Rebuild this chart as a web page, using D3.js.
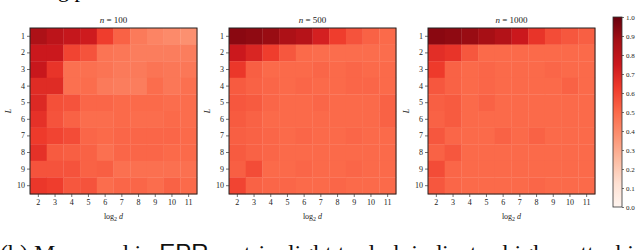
<!DOCTYPE html>
<html><head><meta charset="utf-8">
<script src="https://cdn.jsdelivr.net/npm/d3@7"></script>
<style>body{margin:0;background:#fff}svg{display:block}</style>
</head><body><svg id="c" width="640" height="250"></svg>
<script>
const dLabels = [2,3,4,5,6,7,8,9,10,11];
const Ls = [1,2,3,4,5,6,7,8,9,10];
const titles = ["100","500","1000"];
const cbTicks = [0,0.1,0.2,0.3,0.4,0.5,0.6,0.7,0.8,0.9,1.0];
const n100 = [
[0.85,0.80,0.77,0.74,0.62,0.52,0.45,0.42,0.40,0.38],
[0.75,0.75,0.60,0.56,0.47,0.46,0.44,0.44,0.44,0.44],
[0.76,0.65,0.48,0.48,0.47,0.45,0.45,0.47,0.46,0.46],
[0.68,0.68,0.48,0.49,0.45,0.44,0.44,0.49,0.46,0.48],
[0.69,0.57,0.56,0.51,0.51,0.50,0.50,0.50,0.49,0.49],
[0.66,0.56,0.52,0.49,0.49,0.50,0.49,0.49,0.50,0.49],
[0.63,0.60,0.58,0.51,0.50,0.51,0.51,0.51,0.51,0.50],
[0.66,0.54,0.53,0.52,0.48,0.51,0.51,0.51,0.50,0.50],
[0.56,0.56,0.56,0.52,0.53,0.48,0.48,0.48,0.48,0.48],
[0.64,0.62,0.55,0.56,0.49,0.51,0.51,0.49,0.52,0.50]];
const n500 = [
[0.93,0.92,0.90,0.85,0.82,0.72,0.62,0.56,0.52,0.50],
[0.75,0.70,0.62,0.55,0.50,0.49,0.49,0.49,0.49,0.49],
[0.64,0.53,0.50,0.50,0.50,0.51,0.50,0.51,0.50,0.50],
[0.54,0.52,0.51,0.50,0.51,0.50,0.50,0.51,0.51,0.50],
[0.55,0.54,0.51,0.50,0.50,0.51,0.50,0.50,0.50,0.52],
[0.54,0.52,0.50,0.50,0.50,0.50,0.50,0.50,0.50,0.52],
[0.53,0.52,0.51,0.50,0.51,0.50,0.50,0.51,0.50,0.50],
[0.54,0.52,0.51,0.50,0.50,0.50,0.50,0.50,0.50,0.50],
[0.53,0.58,0.50,0.50,0.51,0.50,0.50,0.51,0.50,0.50],
[0.60,0.52,0.51,0.51,0.50,0.50,0.51,0.50,0.50,0.50]];
const n1000 = [
[0.93,0.92,0.90,0.87,0.83,0.75,0.65,0.58,0.55,0.53],
[0.67,0.65,0.55,0.50,0.50,0.50,0.50,0.50,0.50,0.50],
[0.63,0.52,0.50,0.51,0.50,0.50,0.50,0.51,0.50,0.50],
[0.55,0.52,0.50,0.51,0.50,0.50,0.50,0.50,0.52,0.50],
[0.53,0.54,0.50,0.52,0.50,0.50,0.50,0.50,0.50,0.50],
[0.52,0.54,0.50,0.50,0.50,0.50,0.50,0.50,0.50,0.50],
[0.55,0.51,0.50,0.50,0.52,0.50,0.52,0.50,0.50,0.50],
[0.52,0.55,0.50,0.50,0.50,0.50,0.50,0.50,0.50,0.50],
[0.58,0.51,0.50,0.50,0.50,0.50,0.50,0.50,0.50,0.50],
[0.55,0.51,0.50,0.50,0.50,0.50,0.51,0.50,0.50,0.50]];
const panels = [n100, n500, n1000];

const svg = d3.select("#c");
const serif = "'Liberation Serif','DejaVu Serif',serif";
const redsStops = ["#fff5f0","#fee0d2","#fcbba1","#fc9272","#fb6a4a","#ef3b2c","#cb181d","#a50f15","#67000d"];
const color = d3.scaleLinear().domain(d3.range(9).map(i=>i/8)).range(redsStops).interpolate(d3.interpolateRgb);

const lefts = [30, 229, 428], W = 167, plotTop = 28, H = 166;

// cropped text from surrounding document
svg.append("text").attr("x",58).attr("y",-3).attr("font-family",serif).attr("font-size",22).text("g p");
const cap = svg.append("text").attr("x",0).attr("y",261).attr("font-family",serif).attr("font-size",24).attr("fill","#111");
cap.append("tspan").text("(b) Measured in ");
cap.append("tspan").attr("font-family","'Liberation Sans',Arial,sans-serif").text("EPR");
cap.append("tspan").text(" metric, light to dark indicates higher attacking rate");

panels.forEach((data, p) => {
  const g = svg.append("g").attr("transform", `translate(${lefts[p]},${plotTop})`);
  const x = d3.scaleBand().domain(dLabels).range([0, W]);
  const y = d3.scaleBand().domain(Ls).range([0, H]);
  data.forEach((row, i) => row.forEach((v, j) => {
    g.append("rect").attr("x", x(dLabels[j])).attr("y", y(Ls[i]))
      .attr("width", x.bandwidth()+0.3).attr("height", y.bandwidth()+0.3)
      .attr("fill", color(v));
  }));
  g.append("rect").attr("width",W).attr("height",H).attr("fill","none").attr("stroke","#222").attr("stroke-width",1);
  const xa = g.append("g").attr("transform",`translate(0,${H})`).call(d3.axisBottom(x).tickSize(3).tickPadding(2));
  const ya = g.append("g").call(d3.axisLeft(y).tickSize(3).tickPadding(2));
  [xa, ya].forEach(a => {
    a.select(".domain").remove();
    a.selectAll("line").attr("stroke","#333").attr("stroke-width",0.7);
    a.selectAll("text").attr("font-family",serif).attr("font-size",8).attr("fill","#222");
  });
  const t = g.append("text").attr("x",W/2).attr("y",-5).attr("text-anchor","middle").attr("font-family",serif).attr("font-size",9).attr("fill","#222");
  t.append("tspan").attr("font-style","italic").text("n");
  t.append("tspan").text(" = " + titles[p]);
  const xl = g.append("text").attr("x",W/2).attr("y",H+25).attr("text-anchor","middle").attr("font-family",serif).attr("font-size",8).attr("fill","#222");
  xl.append("tspan").text("log");
  xl.append("tspan").attr("font-size",6).attr("dy",2).text("2");
  xl.append("tspan").attr("dy",-2).attr("font-style","italic").text(" d");
  g.append("text").attr("transform",`translate(-19,${H/2}) rotate(-90)`).attr("text-anchor","middle")
    .attr("font-family",serif).attr("font-style","italic").attr("font-size",8).attr("fill","#222").text("L");
});

// colorbar
const cbX = 613, cbW = 9, cbTop = 17, cbBot = 207;
const cy = d3.scaleLinear().domain([0,1]).range([cbBot, cbTop]);
const defs = svg.append("defs");
const grad = defs.append("linearGradient").attr("id","cbg").attr("x1",0).attr("y1",1).attr("x2",0).attr("y2",0);
redsStops.forEach((c,i)=>grad.append("stop").attr("offset",i/8).attr("stop-color",c));
svg.append("rect").attr("x",cbX).attr("y",cbTop).attr("width",cbW).attr("height",cbBot-cbTop).attr("fill","url(#cbg)").attr("stroke","#333").attr("stroke-width",0.8);
const ca = svg.append("g").attr("transform",`translate(${cbX+cbW},0)`).call(d3.axisRight(cy).tickValues(cbTicks).tickFormat(d3.format(".1f")).tickSize(2).tickPadding(2));
ca.select(".domain").remove();
ca.selectAll("line").attr("stroke","#333").attr("stroke-width",0.7);
ca.selectAll("text").attr("font-family",serif).attr("font-size",7).attr("fill","#222");
</script></body></html>
